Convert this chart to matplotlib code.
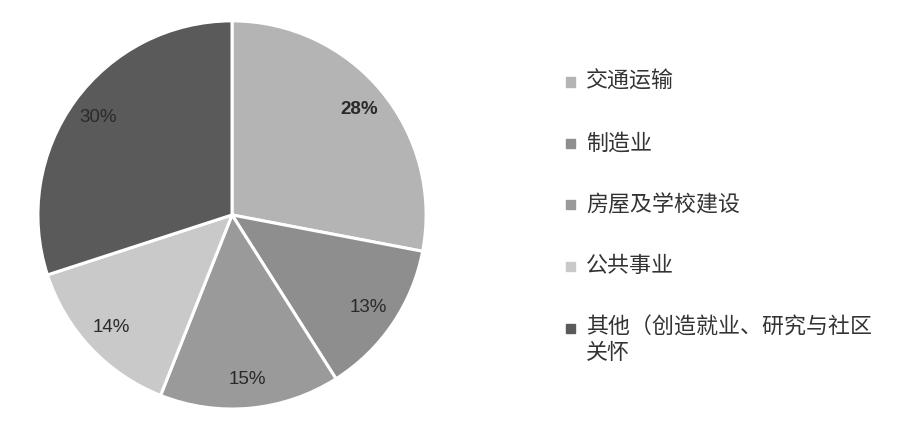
import matplotlib
matplotlib.use("Agg")
import matplotlib.pyplot as plt
from matplotlib.patches import Rectangle

plt.rcParams['font.family'] = ['Noto Sans CJK SC', 'DejaVu Sans']

labels = ['交通运输', '制造业', '房屋及学校建设', '公共事业', '其他（创造就业、研究与社区\n关怀']
shares = [28, 13, 15, 14, 30]
colors = ['#b4b4b4', '#8e8e8e', '#9a9a9a', '#c9c9c9', '#5a5a5a']
bold_pct = [True, False, False, False, False]

fig = plt.figure(figsize=(9, 4.4), dpi=100)
ax = fig.add_axes([0.04, 0.066, 0.4356, 0.891])

wedges, texts, autotexts = ax.pie(
    shares, colors=colors, startangle=90, counterclock=False,
    autopct='%d%%', pctdistance=0.85,
    wedgeprops=dict(edgecolor='white', linewidth=2.2),
    textprops=dict(fontsize=13.5, color='#2a2a2a', family='Liberation Sans'))
for t, b in zip(autotexts, bold_pct):
    if b:
        t.set_fontweight('bold')
ax.set_aspect('equal')
ax.set_xlim(-1.01, 1.01)
ax.set_ylim(-1.01, 1.01)

# legend drawn by hand
x_box = 566 / 900
x_txt = 586 / 900
y0 = 82
step = 61.5
for i, (lab, col) in enumerate(zip(labels, colors)):
    yc = 1 - (y0 + i * step) / 440
    fig.patches.append(Rectangle((x_box, yc - 4.5 / 440), 9 / 900, 9 / 440,
                                 transform=fig.transFigure, color=col))
    fig.text(x_txt, yc + 11 / 440, lab, fontsize=15.8, color='#333333',
             va='top', ha='left', linespacing=1.15)

fig.savefig('out.png', dpi=100, facecolor='white')
